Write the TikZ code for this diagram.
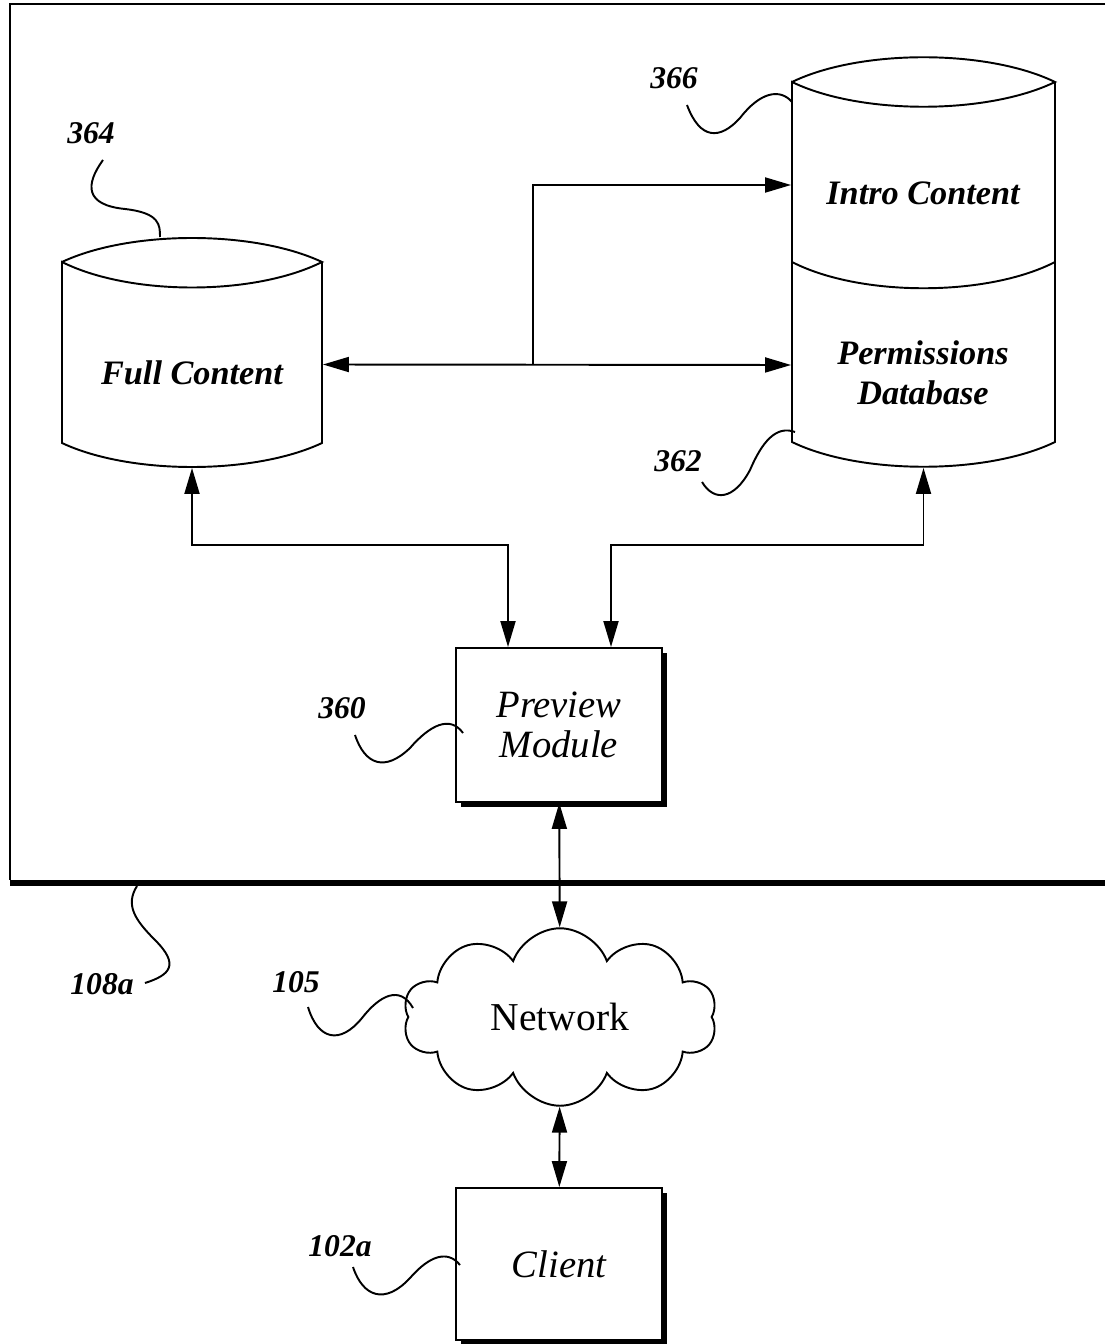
\documentclass[tikz,border=0pt]{standalone}
\usepackage{fontspec}
\setmainfont{Liberation Serif}
\usetikzlibrary{shapes,arrows.meta,positioning,calc,shadows}

\begin{document}
\begin{tikzpicture}[
    x=0.02cm, y=-0.02cm,
    line width=1.1pt,
    dbbody/.style={rectangle, minimum width=5.2cm, inner sep=0pt},
    dblabel/.style={font=\fontsize{19.5}{22.5}\selectfont\bfseries\itshape, align=center},
    module/.style={rectangle, draw=black, fill=white, minimum width=4.12cm, minimum height=3.08cm, align=center, font=\fontsize{22}{22.7}\selectfont\itshape, drop shadow={shadow xshift=0.1cm, shadow yshift=-0.1cm, opacity=1, fill=black}},
    netcloud/.style={cloud, cloud puffs=10, cloud puff arc=140, draw=black, aspect=1.8, minimum width=6.28cm, minimum height=3.55cm, font=\fontsize{22.5}{25}\selectfont},
    refnum/.style={font=\fontsize{18}{22}\selectfont\bfseries\itshape},
    arrow/.style={<->, line width=1.1pt, >={Triangle[length=0.52cm,width=0.3cm]}}
]
\useasboundingbox (0,0) rectangle (1105,1344);

% Server frame
\draw (1105,4) -- (10,4) -- (10,880);
\draw[line width=3.4pt] (10,883) -- (1105,883);

% Full content store
\node[dbbody, minimum height=4.1cm] (full) at (192,364.5) {};
\draw (62,262) .. controls (130,230) and (254,230) .. (322,262)
      .. controls (254,296) and (130,296) .. (62,262)
      -- (62,443) .. controls (130,475) and (254,475) .. (322,443) -- (322,262);
\node[dblabel] (fulltext) at (192,373) {Full Content};

% Intro content / permissions store
\node[dbbody, minimum width=5.26cm, minimum height=4.12cm] (intro) at (923.5,185) {};
\node[dbbody, minimum width=5.26cm, minimum height=4.08cm] (perm) at (923.5,365) {};
\draw (792,82) .. controls (860,49) and (987,49) .. (1055,82)
      .. controls (987,115) and (860,115) .. (792,82)
      -- (792,442) .. controls (860,475) and (987,475) .. (1055,442) -- (1055,82);
\draw (792,262) .. controls (860,297) and (987,297) .. (1055,262);
\node[dblabel] (introtext) at (923,193) {Intro Content};
\node[dblabel] (permtext) at (923,373) {Permissions\\Database};

% Modules
\node[module] (preview) at (559,725) {Preview\\Module};
\node[netcloud] (net) at (560,1017) {Network};
\node[module, minimum height=3.04cm] (client) at (559,1264) {Client};

% Arrows
\coordinate (hub) at (533,365);
\coordinate (tapL) at (508,545);
\coordinate (tapR) at (611,545);
\draw[arrow] (full.east) -- (perm.west);
\draw[arrow, ->] (hub) |- (intro.west);
\draw[arrow] (full.south) |- (tapL) -- (tapL |- preview.north);
\draw[arrow] (perm.south) |- (tapR) -- (tapR |- preview.north);
\draw[arrow] (preview) -- (net);
\draw[arrow] (net) -- (client);

% Reference numerals
\node[refnum] (n364) at (91,133) {364};
\node[refnum] (n366) at (674,78) {366};
\node[refnum] (n362) at (678,461) {362};
\node[refnum] (n360) at (342,708) {360};
\node[refnum] (n108a) at (102,984) {108a};
\node[refnum] (n105) at (296,982) {105};
\node[refnum] (n102a) at (340,1246) {102a};

% Leader lines
\draw (103,160) .. controls (85,185) and (85,205) .. (125,209) .. controls (160,213) and (160,225) .. (160,237);
\draw (687,105) .. controls (700,140) and (720,140) .. (740,118) .. controls (760,92) and (780,88) .. (792,102);
\draw (702,482) .. controls (714,502) and (734,500) .. (750,470) .. controls (762,442) and (776,425) .. (795,432);
\draw (355,735) .. controls (365,765) and (385,772) .. (410,748) .. controls (430,725) and (450,715) .. (463,733);
\draw (137,886) .. controls (125,905) and (135,920) .. (155,940) .. controls (180,965) and (170,975) .. (145,983);
\draw (308,1007) .. controls (318,1040) and (340,1045) .. (362,1018) .. controls (380,995) and (400,985) .. (413,1008);
\draw (353,1267) .. controls (363,1297) and (385,1305) .. (410,1278) .. controls (430,1255) and (448,1250) .. (460,1265);

\end{tikzpicture}
\end{document}
